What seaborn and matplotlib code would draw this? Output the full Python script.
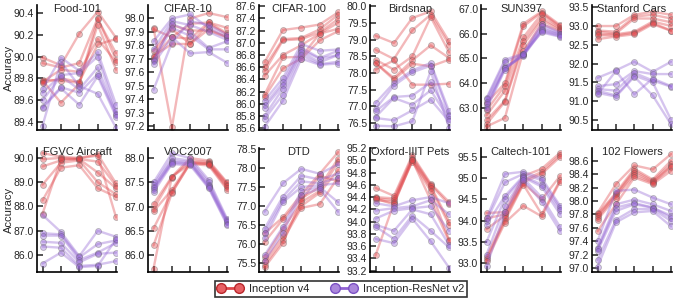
import matplotlib
matplotlib.use("Agg")
import matplotlib.pyplot as plt
from matplotlib.lines import Line2D
import seaborn as sns
import pandas as pd

# values per x position (5 positions), 6 runs per model
food101_v4 = [[89.99, 89.94, 89.79, 89.78, 89.77, 89.76],
              [89.92, 89.90, 89.78, 89.58, 89.88, 89.80],
              [90.21, 89.94, 89.76, 89.75, 89.86, 89.77],
              [90.41, 90.35, 90.34, 90.29, 90.16, 90.11],
              [90.17, 89.97, 90.03, 89.88, 89.95, 90.16]]
food101_irv2 = [[89.70, 89.67, 89.60, 89.54, 89.53, 89.37],
                [89.99, 89.83, 89.82, 89.72, 89.71, 89.95],
                [89.87, 89.85, 89.70, 89.67, 89.56, 89.73],
                [90.04, 90.00, 89.90, 89.84, 89.82, 89.66],
                [89.56, 89.50, 89.48, 89.47, 89.45, 89.35]]

cifar10_v4 = [[97.93, 97.92, 97.76, 97.72, 97.70, 97.71],
              [97.19, 97.86, 97.92, 97.81, 97.95, 97.86],
              [98.00, 97.85, 97.81, 97.81, 97.91, 97.96],
              [98.04, 97.97, 97.96, 97.92, 97.91, 97.97],
              [98.01, 97.89, 97.88, 97.86, 97.86, 97.93]]
cifar10_irv2 = [[97.83, 97.77, 97.69, 97.68, 97.66, 97.47],
                [98.00, 97.98, 97.96, 97.93, 97.86, 97.82],
                [98.03, 97.95, 97.90, 97.87, 97.74, 97.98],
                [97.93, 97.90, 97.78, 97.77, 97.75, 97.95],
                [97.86, 97.84, 97.83, 97.77, 97.67, 97.88]]

cifar100_v4 = [[86.68, 86.60, 86.53, 86.46, 86.15, 86.11],
               [87.21, 87.06, 87.04, 86.80, 86.76, 86.58],
               [87.25, 87.08, 87.06, 86.96, 86.77, 86.74],
               [87.30, 87.22, 87.17, 87.15, 87.15, 87.04],
               [87.50, 87.46, 87.39, 87.33, 87.23, 87.19]]
cifar100_irv2 = [[86.05, 85.98, 85.93, 85.80, 85.75, 85.62],
                 [86.42, 86.35, 86.30, 86.25, 86.15, 86.05],
                 [86.98, 86.92, 86.88, 86.85, 86.80, 86.74],
                 [86.87, 86.75, 86.74, 86.68, 86.65, 86.64],
                 [86.89, 86.87, 86.80, 86.80, 86.69, 86.66]]

birdsnap_v4 = [[79.12, 78.70, 78.40, 78.30, 78.30, 78.10],
               [78.90, 78.42, 78.10, 77.85, 77.80, 78.38],
               [79.65, 79.28, 78.50, 78.38, 78.28, 77.65],
               [79.85, 79.75, 79.68, 78.83, 78.20, 77.65],
               [78.95, 78.85, 78.62, 78.45, 78.40, 77.68]]
birdsnap_irv2 = [[77.10, 76.92, 76.85, 76.68, 76.65, 76.42],
                 [77.70, 77.62, 77.28, 77.25, 76.58, 76.40],
                 [78.08, 78.02, 77.32, 77.05, 76.88, 76.55],
                 [78.30, 78.22, 77.72, 77.48, 77.20, 78.05],
                 [76.85, 76.75, 76.70, 76.62, 76.55, 76.35]]

sun397_v4 = [[63.20, 62.90, 62.70, 62.50, 62.35, 62.25],
             [64.00, 63.90, 63.70, 63.30, 63.25, 62.60],
             [66.40, 66.30, 65.85, 65.70, 65.55, 65.30],
             [66.90, 66.85, 66.80, 66.65, 66.55, 66.40],
             [66.35, 66.30, 66.25, 66.20, 66.15, 66.10]]
sun397_irv2 = [[63.40, 63.35, 63.25, 63.15, 63.05, 62.95],
               [64.95, 64.85, 64.65, 64.62, 64.60, 64.55],
               [65.20, 65.18, 65.15, 65.12, 65.10, 65.20],
               [66.40, 66.30, 66.20, 66.15, 66.10, 66.05],
               [66.05, 66.00, 65.98, 65.95, 65.90, 65.88]]

cars_v4 = [[93.00, 92.88, 92.85, 92.78, 92.75, 92.65],
           [93.00, 92.85, 92.80, 92.78, 92.75, 92.72],
           [93.30, 93.25, 93.20, 92.85, 92.82, 92.78],
           [93.38, 93.30, 93.20, 93.12, 93.08, 93.05],
           [93.30, 93.20, 93.10, 93.00, 92.88, 92.87]]
cars_irv2 = [[91.62, 91.40, 91.32, 91.28, 91.22, 91.18],
             [91.82, 91.45, 91.28, 91.15, 91.12, 91.80],
             [92.05, 91.80, 91.75, 91.68, 91.65, 91.18],
             [91.78, 91.72, 91.55, 91.50, 91.15, 91.60],
             [92.05, 91.72, 91.38, 90.50, 90.38, 91.40]]

aircraft_v4 = [[90.20, 89.95, 89.65, 88.90, 88.25, 87.70],
               [90.05, 90.00, 89.90, 89.80, 89.60, 89.95],
               [90.00, 89.95, 89.95, 89.90, 89.70, 89.98],
               [90.15, 89.85, 89.40, 89.00, 88.75, 90.10],
               [88.95, 88.85, 88.75, 88.50, 88.40, 87.55]]
aircraft_irv2 = [[87.65, 86.90, 86.80, 86.55, 86.35, 85.65],
                 [86.95, 86.85, 86.80, 86.50, 86.30, 86.10],
                 [85.95, 85.90, 85.80, 85.70, 85.55, 85.50],
                 [87.00, 86.45, 86.10, 86.05, 85.60, 85.55],
                 [86.75, 86.60, 86.50, 86.10, 85.75, 86.65]]

voc_v4 = [[87.05, 86.95, 86.90, 86.55, 86.20, 85.72],
          [87.62, 87.60, 87.35, 87.30, 87.28, 87.62],
          [88.00, 87.95, 87.92, 87.90, 87.90, 87.88],
          [87.95, 87.92, 87.90, 87.88, 87.88, 87.85],
          [87.50, 87.48, 87.45, 87.42, 87.38, 87.35]]
voc_irv2 = [[87.50, 87.45, 87.40, 87.38, 87.35, 87.30],
            [88.10, 88.00, 87.95, 87.92, 87.90, 87.88],
            [88.00, 87.95, 87.92, 87.90, 87.88, 87.85],
            [87.55, 87.50, 87.45, 87.42, 87.40, 87.38],
            [86.75, 86.72, 86.70, 86.68, 86.65, 86.62]]

dtd_v4 = [[76.28, 76.05, 75.65, 75.55, 75.45, 75.38],
          [76.70, 76.65, 76.40, 76.20, 76.10, 76.02],
          [77.30, 77.20, 77.10, 77.00, 76.95, 77.15],
          [77.85, 77.50, 77.40, 77.35, 77.05, 77.80],
          [78.42, 78.25, 78.15, 77.95, 77.75, 77.65]]
dtd_irv2 = [[76.85, 76.40, 76.30, 76.15, 75.70, 75.55],
            [77.60, 77.25, 77.15, 77.10, 76.45, 76.30],
            [77.98, 77.80, 77.65, 77.50, 77.40, 77.30],
            [77.85, 77.70, 77.60, 77.55, 77.50, 77.45],
            [78.10, 77.85, 77.75, 77.60, 77.10, 76.85]]

pets_v4 = [[94.55, 94.40, 94.38, 94.35, 93.45, 94.38],
           [94.42, 94.38, 94.35, 94.32, 94.30, 94.28],
           [95.08, 95.05, 95.02, 95.00, 94.98, 95.00],
           [94.62, 94.60, 94.58, 94.55, 94.50, 94.35],
           [94.32, 94.28, 94.00, 93.95, 93.70, 93.68]]
pets_irv2 = [[94.30, 94.18, 94.05, 93.95, 93.92, 93.72],
             [94.25, 94.22, 94.18, 93.85, 93.72, 93.65],
             [94.35, 94.25, 94.22, 94.20, 94.10, 94.05],
             [94.40, 94.35, 94.25, 94.12, 93.85, 93.68],
             [94.30, 94.12, 93.85, 93.62, 93.58, 93.25]]

caltech_v4 = [[94.18, 94.05, 93.80, 93.15, 93.10, 93.05],
              [94.20, 94.15, 94.12, 94.05, 94.00, 93.95],
              [95.05, 94.95, 94.90, 94.88, 94.85, 94.35],
              [95.22, 95.15, 95.10, 94.50, 94.15, 94.10],
              [95.60, 95.55, 95.50, 95.05, 94.95, 94.92]]
caltech_irv2 = [[94.05, 94.00, 93.90, 93.50, 93.20, 92.92],
                [95.10, 94.90, 94.58, 94.52, 94.35, 94.20],
                [95.15, 95.10, 95.05, 95.02, 95.00, 94.95],
                [95.00, 94.95, 94.85, 94.80, 94.55, 94.45],
                [94.35, 94.30, 94.25, 94.15, 93.85, 93.75]]

flowers_v4 = [[97.82, 97.80, 97.78, 97.75, 97.72, 97.55],
              [98.25, 98.12, 98.10, 98.08, 98.05, 97.95],
              [98.53, 98.48, 98.45, 98.42, 98.38, 98.35],
              [98.47, 98.32, 98.30, 98.28, 98.27, 98.25],
              [98.70, 98.60, 98.55, 98.52, 98.50, 98.45]]
flowers_irv2 = [[97.40, 97.30, 97.28, 97.25, 97.12, 97.02],
                [98.15, 97.95, 97.90, 97.85, 97.72, 97.68],
                [98.17, 98.02, 97.97, 97.95, 97.88, 97.83],
                [98.05, 97.95, 97.90, 97.90, 97.88, 97.85],
                [97.95, 97.85, 97.78, 97.75, 97.70, 97.62]]

dataset_names = ["Food-101", "CIFAR-10", "CIFAR-100", "Birdsnap", "SUN397", "Stanford Cars",
                 "FGVC Aircraft", "VOC2007", "DTD", "Oxford-IIIT Pets", "Caltech-101", "102 Flowers"]
v4_values = [food101_v4, cifar10_v4, cifar100_v4, birdsnap_v4, sun397_v4, cars_v4,
             aircraft_v4, voc_v4, dtd_v4, pets_v4, caltech_v4, flowers_v4]
irv2_values = [food101_irv2, cifar10_irv2, cifar100_irv2, birdsnap_irv2, sun397_irv2, cars_irv2,
               aircraft_irv2, voc_irv2, dtd_irv2, pets_irv2, caltech_irv2, flowers_irv2]
model_names = ["Inception v4", "Inception-ResNet v2"]

# axis ranges and ticks (start, stop, step)
ylims = [(89.33, 90.47), (97.17, 98.10), (85.57, 87.62), (76.29, 80.04), (62.11, 67.16), (90.23, 93.56),
         (85.30, 90.41), (85.65, 88.21), (75.26, 78.53), (93.18, 95.20), (92.79, 95.71), (96.94, 98.79)]
yticks = [(89.4, 90.4, 0.2), (97.2, 98.0, 0.1), (85.6, 87.6, 0.2), (76.5, 80.0, 0.5), (63.0, 67.0, 1.0),
          (90.5, 93.5, 0.5), (86.0, 90.0, 1.0), (86.0, 88.0, 0.5), (75.5, 78.5, 0.5), (93.2, 95.2, 0.2),
          (93.0, 95.5, 0.5), (97.0, 98.6, 0.2)]

RED = "#e0464a"
PURPLE = "#9364d4"

rows = []
for name, v4, irv2 in zip(dataset_names, v4_values, irv2_values):
    for model, vals in zip(model_names, [v4, irv2]):
        for step, col in enumerate(vals):
            for run, acc in enumerate(col):
                rows.append({"dataset": name, "model": model, "step": step, "run": run, "acc": acc})
df = pd.DataFrame(rows)

sns.set_style("ticks")
plt.rcParams["font.family"] = ["Liberation Sans", "DejaVu Sans"]

fig = plt.figure(figsize=(6.75, 3.0), dpi=100)
W, H = 675.0, 300.0
row_boxes = [(130, 125), (272, 124)]  # bottom px, height px

for k, name in enumerate(dataset_names):
    r, c = divmod(k, 6)
    bottom_px, height_px = row_boxes[r]
    left_px = 37 + 111 * c
    ax = fig.add_axes([left_px / W, 1 - bottom_px / H, 80 / W, height_px / H])
    sub = df[df["dataset"] == name]
    sns.lineplot(data=sub, x="step", y="acc", hue="model", units="run", estimator=None,
                 hue_order=model_names, palette=[RED, PURPLE], marker="o", markersize=4.3,
                 linewidth=1.7, alpha=0.38, markeredgecolor="0.35", markeredgewidth=0.6,
                 legend=False, ax=ax)
    ax.set_xlim(-0.3, 4.05)
    ax.set_ylim(*ylims[k])
    s0, s1, st = yticks[k]
    n = int(round((s1 - s0) / st)) + 1
    ticks = [s0 + i * st for i in range(n)]
    ax.set_yticks(ticks)
    ax.set_yticklabels([f"{t:.1f}" for t in ticks])
    ax.set_xticks(range(5))
    ax.set_xticklabels([])
    ax.set_xlabel("")
    if c == 0:
        ax.set_ylabel("Accuracy", fontsize=8)
        ax.yaxis.set_label_coords(-0.29, 0.5)
    else:
        ax.set_ylabel("")
    ax.tick_params(direction="in", length=4, width=1.1, labelsize=7.5, pad=2)
    for sp in ["left", "bottom"]:
        ax.spines[sp].set_linewidth(1.2)
        ax.spines[sp].set_color("black")
    sns.despine(ax=ax)
    ax.text(0.5, 1.01, name, transform=ax.transAxes, ha="center", va="top", fontsize=8)

handles = [Line2D([0], [0], color=RED, lw=2, marker="o", markersize=7,
                  markerfacecolor="#e86064", markeredgecolor="#b8282c"),
           Line2D([0], [0], color=PURPLE, lw=2, marker="o", markersize=7,
                  markerfacecolor="#ab88dc", markeredgecolor="#7c52c4")]
leg = fig.legend(handles, model_names, loc="center", bbox_to_anchor=(341 / W, 1 - 289 / H),
                 ncol=2, numpoints=2, fontsize=8, frameon=True, fancybox=False,
                 edgecolor="black", handlelength=2.2, borderpad=0.3, columnspacing=2.0,
                 handletextpad=0.6)
leg.get_frame().set_linewidth(1.2)

fig.savefig("out.png", dpi=100)
